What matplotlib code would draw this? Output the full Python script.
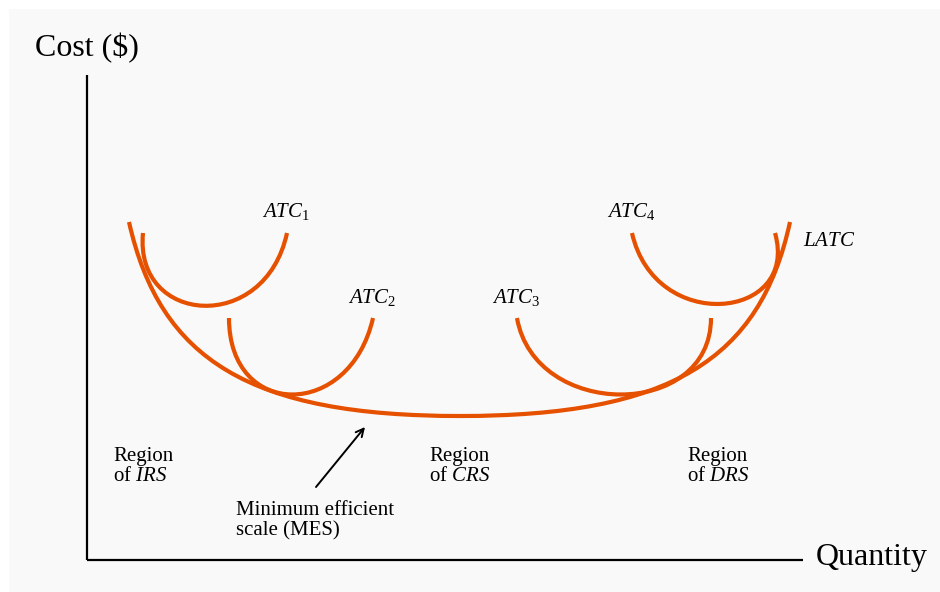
import matplotlib
matplotlib.use("Agg")
import matplotlib.pyplot as plt
from matplotlib.path import Path
from matplotlib.patches import PathPatch, Rectangle

# Serif text like the original, math italics from the same family
plt.rcParams['font.family'] = ['Liberation Serif', 'DejaVu Serif']
plt.rcParams['mathtext.fontset'] = 'custom'
plt.rcParams['mathtext.rm'] = 'Liberation Serif'
plt.rcParams['mathtext.it'] = 'Liberation Serif:italic'

# Curve shapes (quantity, cost) as cubic Bezier control points
atc1_q = [56, 47, 178, 200]
atc1_c = [327, 235, 225, 327]
atc2_q = [142, 142, 263, 286]
atc2_c = [242, 140, 140, 242]
atc3_q = [430, 448, 624, 624]
atc3_c = [242, 140, 140, 242]
atc4_q = [545, 568, 713, 688]
atc4_c = [327, 225, 240, 327]
latc_q = [42, 73, 163, 373, 583, 673, 703]
latc_c = [338, 200, 144, 144, 144, 200, 338]

# Labels and where they sit
curve_labels = [r'$ATC_1$', r'$ATC_2$', r'$ATC_3$', r'$ATC_4$', r'$LATC$']
curve_label_q = [175, 261, 405, 520, 716]
curve_label_c = [348, 263, 263, 348, 318]
region_labels = ['Region\nof $IRS$', 'Region\nof $CRS$', 'Region\nof $DRS$']
region_q = [26, 342, 600]
region_c = 113

line_color = '#E65100'

fig = plt.figure(figsize=(9.4, 5.92), dpi=100)
fig.patch.set_facecolor('white')
ax = fig.add_axes([0, 0, 1, 1])
ax.set_xlim(-87, 853)
ax.set_ylim(-32, 560)
ax.axis('off')

# light grey panel
ax.add_patch(Rectangle((-78, -32), 940, 583, facecolor='#f9f9f9', edgecolor='none', zorder=0))

def bezier(q, c):
    verts = list(zip(q, c))
    codes = [Path.MOVETO] + [Path.CURVE4] * (len(verts) - 1)
    return PathPatch(Path(verts, codes), facecolor='none', edgecolor=line_color, lw=3, capstyle='butt', zorder=3)

for q, c in [(atc1_q, atc1_c), (atc2_q, atc2_c), (atc3_q, atc3_c), (atc4_q, atc4_c), (latc_q, latc_c)]:
    ax.add_patch(bezier(q, c))

# axes lines
ax.plot([0, 0], [0, 485], color='black', lw=1.6, solid_capstyle='butt')
ax.plot([0, 716], [0, 0], color='black', lw=1.6, solid_capstyle='butt')
ax.text(-52, 512, 'Cost ($)', fontsize=23, va='center', ha='left')
ax.text(729, 3, 'Quantity', fontsize=23, va='center', ha='left')

for lab, q, c in zip(curve_labels, curve_label_q, curve_label_c):
    ax.text(q, c, lab, fontsize=15, va='center', ha='left')

for lab, q in zip(region_labels, region_q):
    ax.text(q, region_c, lab, fontsize=15, va='top', ha='left', linespacing=1.06)

ax.text(149, 59, 'Minimum efficient\nscale (MES)', fontsize=15, va='top', ha='left', linespacing=1.06)
ax.annotate('', xy=(278, 133), xytext=(229, 73),
            arrowprops=dict(arrowstyle='->', color='black', lw=1.4, mutation_scale=14,
                            shrinkA=0, shrinkB=0))

fig.savefig('out.png', dpi=100)
